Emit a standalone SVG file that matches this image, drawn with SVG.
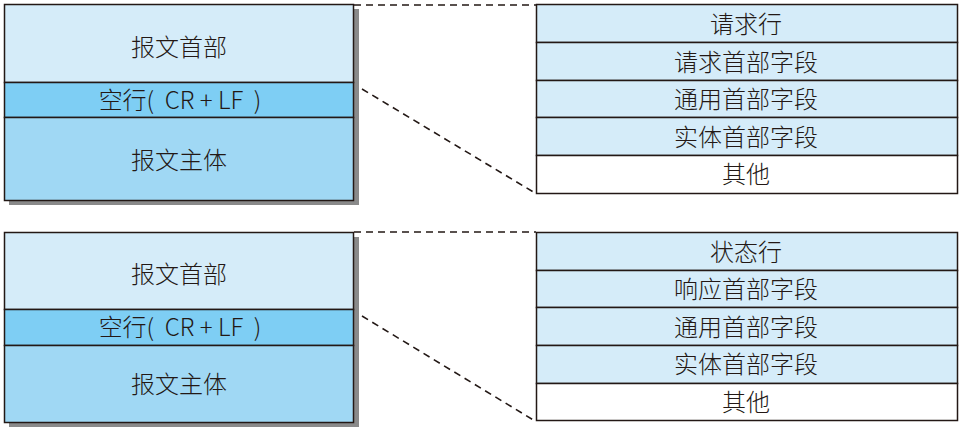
<svg xmlns="http://www.w3.org/2000/svg" width="963" height="427" viewBox="0 0 963 427">
<style>
.shadow{fill:#8a8a8a}
.box{stroke:#231815;stroke-width:1.5}
.hdr{fill:#d5ecf9}
.crlf{fill:#7ecef4}
.body{fill:#a0d8f4}
.wht{fill:#ffffff}
.dash{fill:none;stroke:#231815;stroke-width:1.6;stroke-dasharray:7 5}
text{font-family:"Noto Sans CJK SC","Noto Sans",sans-serif;font-weight:300;fill:#231815;text-anchor:middle;dominant-baseline:central;font-size:24px}
</style>
<rect width="963" height="427" fill="#ffffff"/>
<g id="connectors">
<line class="dash" x1="354" y1="5" x2="536" y2="5"/>
<line class="dash" x1="362" y1="89" x2="535" y2="193"/>
<line class="dash" x1="354" y1="232" x2="536" y2="232"/>
<line class="dash" x1="362" y1="316" x2="535" y2="421"/>
</g>
<g id="message1">
<rect class="shadow" x="9" y="9" width="350" height="196"/>
<rect class="box hdr" x="4.5" y="4.5" width="349" height="78"/>
<rect class="box crlf" x="4.5" y="82.5" width="349" height="35"/>
<rect class="box body" x="4.5" y="117.5" width="349" height="83"/>
<text x="179" y="45">报文首部</text>
<text x="180" y="98" xml:space="preserve">空行(  CR + LF  )</text>
<text x="179" y="158">报文主体</text>
</g>
<g id="request">
<rect class="box hdr" x="536.5" y="4.5" width="421" height="38"/>
<rect class="box hdr" x="536.5" y="42.5" width="421" height="38"/>
<rect class="box hdr" x="536.5" y="80.5" width="421" height="37"/>
<rect class="box hdr" x="536.5" y="117.5" width="421" height="38"/>
<rect class="box wht" x="536.5" y="155.5" width="421" height="38"/>
<text x="746" y="22">请求行</text>
<text x="746" y="60">请求首部字段</text>
<text x="746" y="97">通用首部字段</text>
<text x="746" y="135">实体首部字段</text>
<text x="746" y="172">其他</text>
</g>
<g id="message2">
<rect class="shadow" x="9" y="237" width="350" height="190"/>
<rect class="box hdr" x="4.5" y="232.5" width="349" height="77"/>
<rect class="box crlf" x="4.5" y="309.5" width="349" height="36"/>
<rect class="box body" x="4.5" y="345.5" width="349" height="77"/>
<text x="179" y="272">报文首部</text>
<text x="180" y="325" xml:space="preserve">空行(  CR + LF  )</text>
<text x="179" y="382">报文主体</text>
</g>
<g id="response">
<rect class="box hdr" x="536.5" y="232.5" width="421" height="38"/>
<rect class="box hdr" x="536.5" y="270.5" width="421" height="37"/>
<rect class="box hdr" x="536.5" y="307.5" width="421" height="38"/>
<rect class="box hdr" x="536.5" y="345.5" width="421" height="38"/>
<rect class="box wht" x="536.5" y="383.5" width="421" height="37"/>
<text x="746" y="250">状态行</text>
<text x="746" y="287">响应首部字段</text>
<text x="746" y="325">通用首部字段</text>
<text x="746" y="362">实体首部字段</text>
<text x="746" y="400">其他</text>
</g>
</svg>
